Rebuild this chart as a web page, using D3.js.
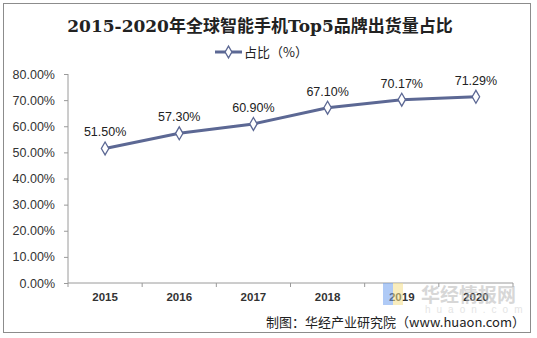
<!DOCTYPE html>
<html><head><meta charset="utf-8">
<script src="https://cdn.jsdelivr.net/npm/d3@7"></script>
<style>body{margin:0;background:#fff}svg{display:block}</style>
</head><body>
<script>
const years = ["2015","2016","2017","2018","2019","2020"];
const shares = [51.50, 57.30, 60.90, 67.10, 70.17, 71.29];
const yTicks = [0,10,20,30,40,50,60,70,80];
const title = "2015-2020年全球智能手机Top5品牌出货量占比";
const legendLabel = "占比（%）";
const source = "制图：华经产业研究院（www.huaon.com）";

const W=537,H=338;
const svg=d3.select("body").append("svg").attr("width",W).attr("height",H);
svg.append("rect").attr("x",3.5).attr("y",3.5).attr("width",527).attr("height",329)
  .attr("fill","#fff").attr("stroke","#8c8c8c").attr("stroke-width",1);

const x=d3.scaleBand().domain(years).range([68,513]);
const y=d3.scaleLinear().domain([0,80]).range([283,74]);
const col="#5c6894", axisCol="#9a9a9a";

// title
svg.append("text").attr("x",260).attr("y",32).attr("text-anchor","middle")
  .attr("font-family","'DejaVu Serif','Noto Sans CJK SC',serif").attr("font-weight","bold")
  .attr("font-size",17).attr("fill","#222").text(title);

// legend
const lg=svg.append("g");
lg.append("line").attr("x1",215).attr("x2",242).attr("y1",52).attr("y2",52).attr("stroke",col).attr("stroke-width",3);
lg.append("path").attr("d",d3.symbol(d3.symbolDiamond,40)()).attr("transform","translate(228.5,52)")
  .attr("fill","#fff").attr("stroke",col).attr("stroke-width",1.3);
lg.append("text").attr("x",244).attr("y",57).attr("font-family","'Noto Sans CJK SC',sans-serif")
  .attr("font-size",13).attr("fill","#222").text(legendLabel);

// y axis
const ya=svg.append("g").attr("transform","translate(68,0)")
  .call(d3.axisLeft(y).tickValues(yTicks).tickSize(4).tickPadding(9).tickFormat(d=>d.toFixed(2)+"%"));
ya.select(".domain").attr("stroke",axisCol).attr("d","M0,74V283");
ya.selectAll(".tick line").attr("stroke",axisCol);
ya.selectAll("text").attr("font-family","'Liberation Sans',Arial,sans-serif").attr("font-size",12.5).attr("fill","#333");

// x axis
const xa=svg.append("g").attr("transform","translate(0,283)")
  .call(d3.axisBottom(x).tickSize(0).tickPadding(10));
xa.select(".domain").attr("stroke",axisCol).attr("d","M68,0H513");
xa.selectAll("text").attr("font-family","'Liberation Sans',Arial,sans-serif").attr("font-size",11.5)
  .attr("font-weight","bold").attr("fill","#333");
const bounds=[...years.map(d=>x(d)),x.range()[1]];
svg.append("g").selectAll("line").data(bounds).join("line")
  .attr("x1",d=>d).attr("x2",d=>d).attr("y1",283).attr("y2",287).attr("stroke",axisCol);

// watermark
const wm=svg.append("g").attr("opacity",0.55);
wm.append("rect").attr("x",383).attr("y",283).attr("width",10).attr("height",22).attr("fill","#6fa0f0");
wm.append("rect").attr("x",393).attr("y",283).attr("width",10).attr("height",22).attr("fill","#f5e08a");
wm.append("text").attr("x",421).attr("y",302).attr("font-family","'Noto Sans CJK SC',sans-serif")
  .attr("font-size",19).attr("font-weight","bold").attr("fill","#b8b8b8").text("华经情报网");
wm.append("text").attr("x",425).attr("y",313).attr("font-family","'Liberation Sans',sans-serif")
  .attr("font-size",10).attr("letter-spacing",6).attr("fill","#cfcfcf").text("huaon.com");

// line
const line=d3.line().x((d,i)=>x(years[i])+x.bandwidth()/2).y(d=>y(d));
svg.append("path").datum(shares).attr("d",line).attr("fill","none").attr("stroke",col).attr("stroke-width",3);
svg.append("g").selectAll("path").data(shares).join("path")
  .attr("d",d3.symbol(d3.symbolDiamond,48)())
  .attr("transform",(d,i)=>`translate(${x(years[i])+x.bandwidth()/2},${y(d)})`)
  .attr("fill","#fff").attr("stroke",col).attr("stroke-width",1.3);
svg.append("g").selectAll("text").data(shares).join("text")
  .attr("x",(d,i)=>x(years[i])+x.bandwidth()/2).attr("y",d=>y(d)-12)
  .attr("text-anchor","middle").attr("font-family","'Liberation Sans',Arial,sans-serif")
  .attr("font-size",12.5).attr("fill","#222").text(d=>d.toFixed(2)+"%");

// source
svg.append("text").attr("x",525).attr("y",327).attr("text-anchor","end")
  .attr("font-family","'Noto Sans CJK SC',sans-serif").attr("font-size",13).attr("fill","#222").text(source);
</script>
</body></html>
